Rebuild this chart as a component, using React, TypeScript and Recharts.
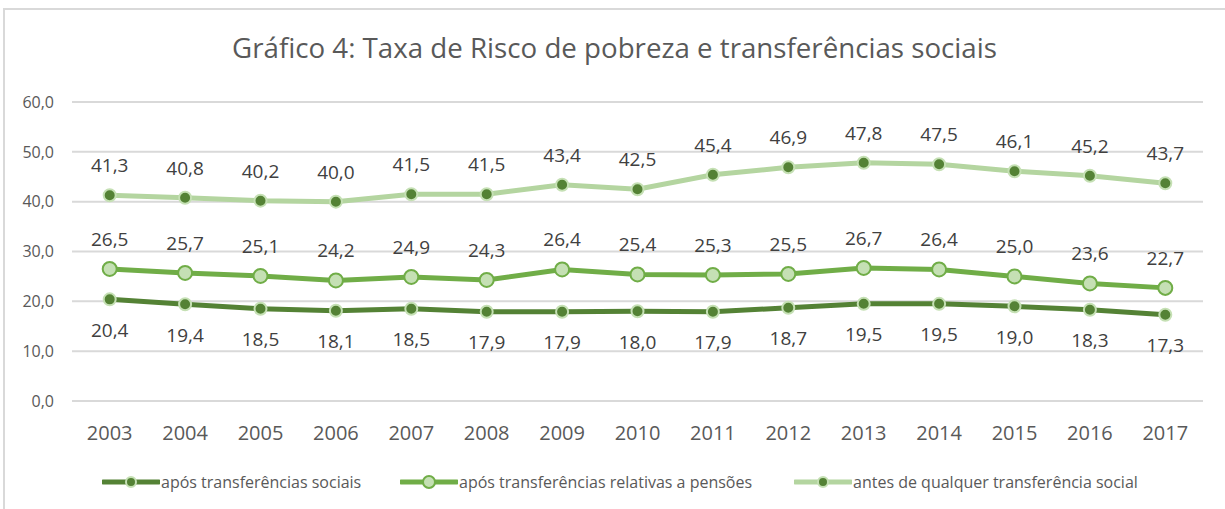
import { LineChart, Line, XAxis, YAxis, CartesianGrid, LabelList } from 'recharts';

const years = ['2003', '2004', '2005', '2006', '2007', '2008', '2009', '2010', '2011', '2012', '2013', '2014', '2015', '2016', '2017'];
const aposSociais = [20.4, 19.4, 18.5, 18.1, 18.5, 17.9, 17.9, 18.0, 17.9, 18.7, 19.5, 19.5, 19.0, 18.3, 17.3];
const aposPensoes = [26.5, 25.7, 25.1, 24.2, 24.9, 24.3, 26.4, 25.4, 25.3, 25.5, 26.7, 26.4, 25.0, 23.6, 22.7];
const antes = [41.3, 40.8, 40.2, 40.0, 41.5, 41.5, 43.4, 42.5, 45.4, 46.9, 47.8, 47.5, 46.1, 45.2, 43.7];
const yTicks = [0, 10, 20, 30, 40, 50, 60];

const data = years.map((year, i) => ({
  year,
  apos: aposSociais[i],
  pensoes: aposPensoes[i],
  antes: antes[i],
}));

const FONT = '"Open Sans", "Noto Sans", sans-serif';
const fmt = (v: any) => Number(v).toFixed(1).replace('.', ',');

const series = [
  { key: 'apos', name: 'após transferências sociais', line: '#548235', fill: '#548235', stroke: '#C5E0B4', r: 6, pos: 'bottom', offset: 24 },
  { key: 'pensoes', name: 'após transferências relativas a pensões', line: '#70AD47', fill: '#C5E0B4', stroke: '#70AD47', r: 7, pos: 'top', offset: 23 },
  { key: 'antes', name: 'antes de qualquer transferência social', line: '#B4D5A0', fill: '#548235', stroke: '#C5E0B4', r: 6, pos: 'top', offset: 23 },
];

function LegendItem({ s, left }: { s: any; left: number }) {
  return (
    <div style={{ position: 'absolute', left, top: 472, height: 20, display: 'flex', alignItems: 'center' }}>
      <svg width={58} height={20}>
        <line x1={1} y1={10} x2={57} y2={10} stroke={s.line} strokeWidth={5} strokeLinecap="round" />
        <circle cx={29} cy={10} r={s.r - 1} fill={s.fill} stroke={s.stroke} strokeWidth={2} />
      </svg>
      <span style={{ fontFamily: FONT, fontSize: 16, color: '#595959', marginLeft: 1, whiteSpace: 'nowrap' }}>{s.name}</span>
    </div>
  );
}

export default function App() {
  return (
    <div style={{ position: 'relative', width: 1225, height: 509, background: '#fff', overflow: 'hidden' }}>
      <style>{'body{margin:0}'}</style>
      <div style={{ position: 'absolute', left: 3, top: 8, width: 1240, height: 520, border: '2px solid #D9D9D9', boxSizing: 'border-box' }} />
      <div style={{ position: 'absolute', left: 2, top: 28, width: 1225, textAlign: 'center', fontFamily: FONT, fontSize: 27.7, color: '#595959' }}>
        Gráfico 4: Taxa de Risco de pobreza e transferências sociais
      </div>
      <div style={{ position: 'absolute', left: 0, top: 0 }}>
        <LineChart width={1225} height={509} data={data} margin={{ top: 102, right: 22, bottom: 68, left: 12 }}>
          <CartesianGrid vertical={false} stroke="#D9D9D9" strokeWidth={2} />
          <XAxis
            dataKey="year"
            scale="band"
            axisLine={false}
            tickLine={false}
            tick={{ fill: '#595959', fontSize: 20, fontFamily: FONT }}
            tickMargin={19}
            height={40}
          />
          <YAxis
            domain={[0, 60]}
            ticks={yTicks}
            interval={0}
            axisLine={false}
            tickLine={false}
            width={60}
            tickFormatter={fmt}
            tick={{ fill: '#595959', fontSize: 16, fontFamily: FONT }}
            tickMargin={12}
          />
          {series.map((s) => (
            <Line
              key={s.key}
              dataKey={s.key}
              name={s.name}
              type="linear"
              stroke={s.line}
              strokeWidth={5}
              dot={{ r: s.r, fill: s.fill, stroke: s.stroke, strokeWidth: 2 }}
              activeDot={false}
              isAnimationActive={false}
            >
              <LabelList
                dataKey={s.key}
                position={s.pos as any}
                offset={s.offset}
                formatter={fmt}
                style={{ fill: '#404040', fontSize: 19, fontFamily: FONT }}
              />
            </Line>
          ))}
        </LineChart>
      </div>
      <LegendItem s={series[0]} left={102} />
      <LegendItem s={series[1]} left={400} />
      <LegendItem s={series[2]} left={794} />
    </div>
  );
}
